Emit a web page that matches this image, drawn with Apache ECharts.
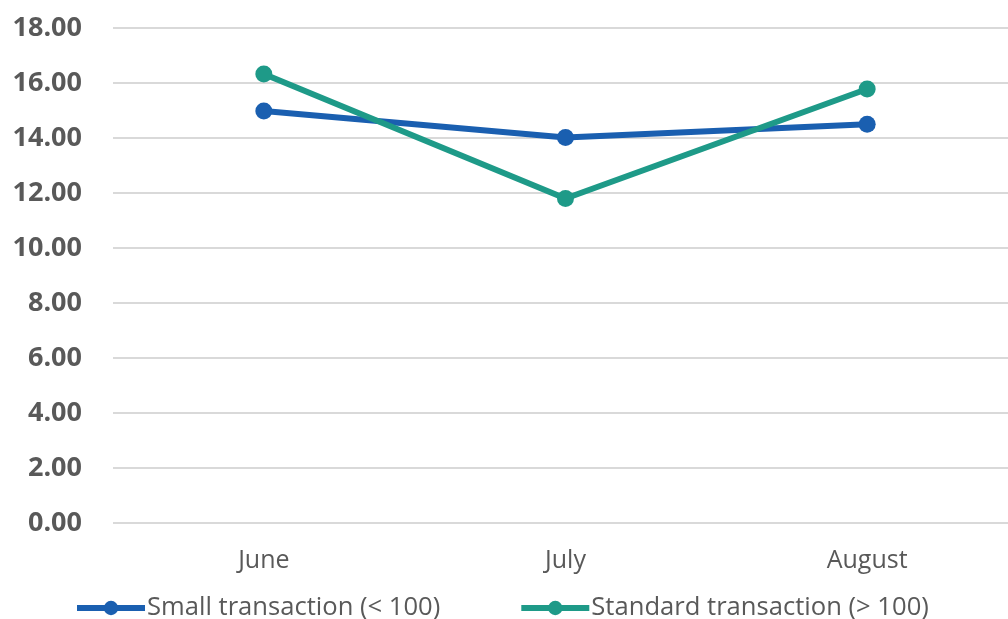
<!DOCTYPE html>
<html><head><meta charset="utf-8">
<script src="https://cdn.jsdelivr.net/npm/echarts@6/dist/echarts.min.js"></script>
<style>html,body{margin:0;padding:0;background:#fff}#c{width:1008px;height:619px}</style>
</head><body><div id="c"></div>
<script>
const categories = ['June', 'July', 'August'];
const smallTx = [14.98, 14.02, 14.50];
const standardTx = [16.33, 11.80, 15.78];
const seriesNames = ['Small transaction (< 100)', 'Standard transaction (> 100)'];

const chart = echarts.init(document.getElementById('c'));
const font = '"Open Sans", "Noto Sans", sans-serif';
chart.setOption({
  animation: false,
  grid: { left: 113, width: 905, top: 28, height: 495, outerBoundsMode: 'none', containLabel: false },
  legend: {
    top: 595, left: 74, padding: 0,
    itemWidth: 68, itemHeight: 18, itemGap: 78,
    lineStyle: { width: 6 },
    textStyle: { fontFamily: font, fontSize: 25.6, color: '#595959', padding: [0,0,0,-3] },
    data: seriesNames
  },
  xAxis: {
    type: 'category', data: categories, boundaryGap: true,
    axisLine: { show: false }, axisTick: { show: false },
    axisLabel: { fontFamily: font, fontSize: 25, color: '#595959', margin: 25 }
  },
  yAxis: {
    type: 'value', min: 0, max: 18, interval: 2,
    axisLabel: { fontFamily: font, fontSize: 27, fontWeight: 'bold', color: '#595959', margin: 31,
      formatter: v => v.toFixed(2) },
    splitLine: { lineStyle: { color: '#d9d9d9', width: 2 } }
  },
  series: [
    { name: seriesNames[0], type: 'line', data: smallTx, symbol: 'circle', symbolSize: 17,
      lineStyle: { width: 6, color: '#1a5fb0' }, itemStyle: { color: '#1a5fb0' } },
    { name: seriesNames[1], type: 'line', data: standardTx, symbol: 'circle', symbolSize: 17,
      lineStyle: { width: 6, color: '#1e9a88' }, itemStyle: { color: '#1e9a88' } }
  ]
});
</script></body></html>
